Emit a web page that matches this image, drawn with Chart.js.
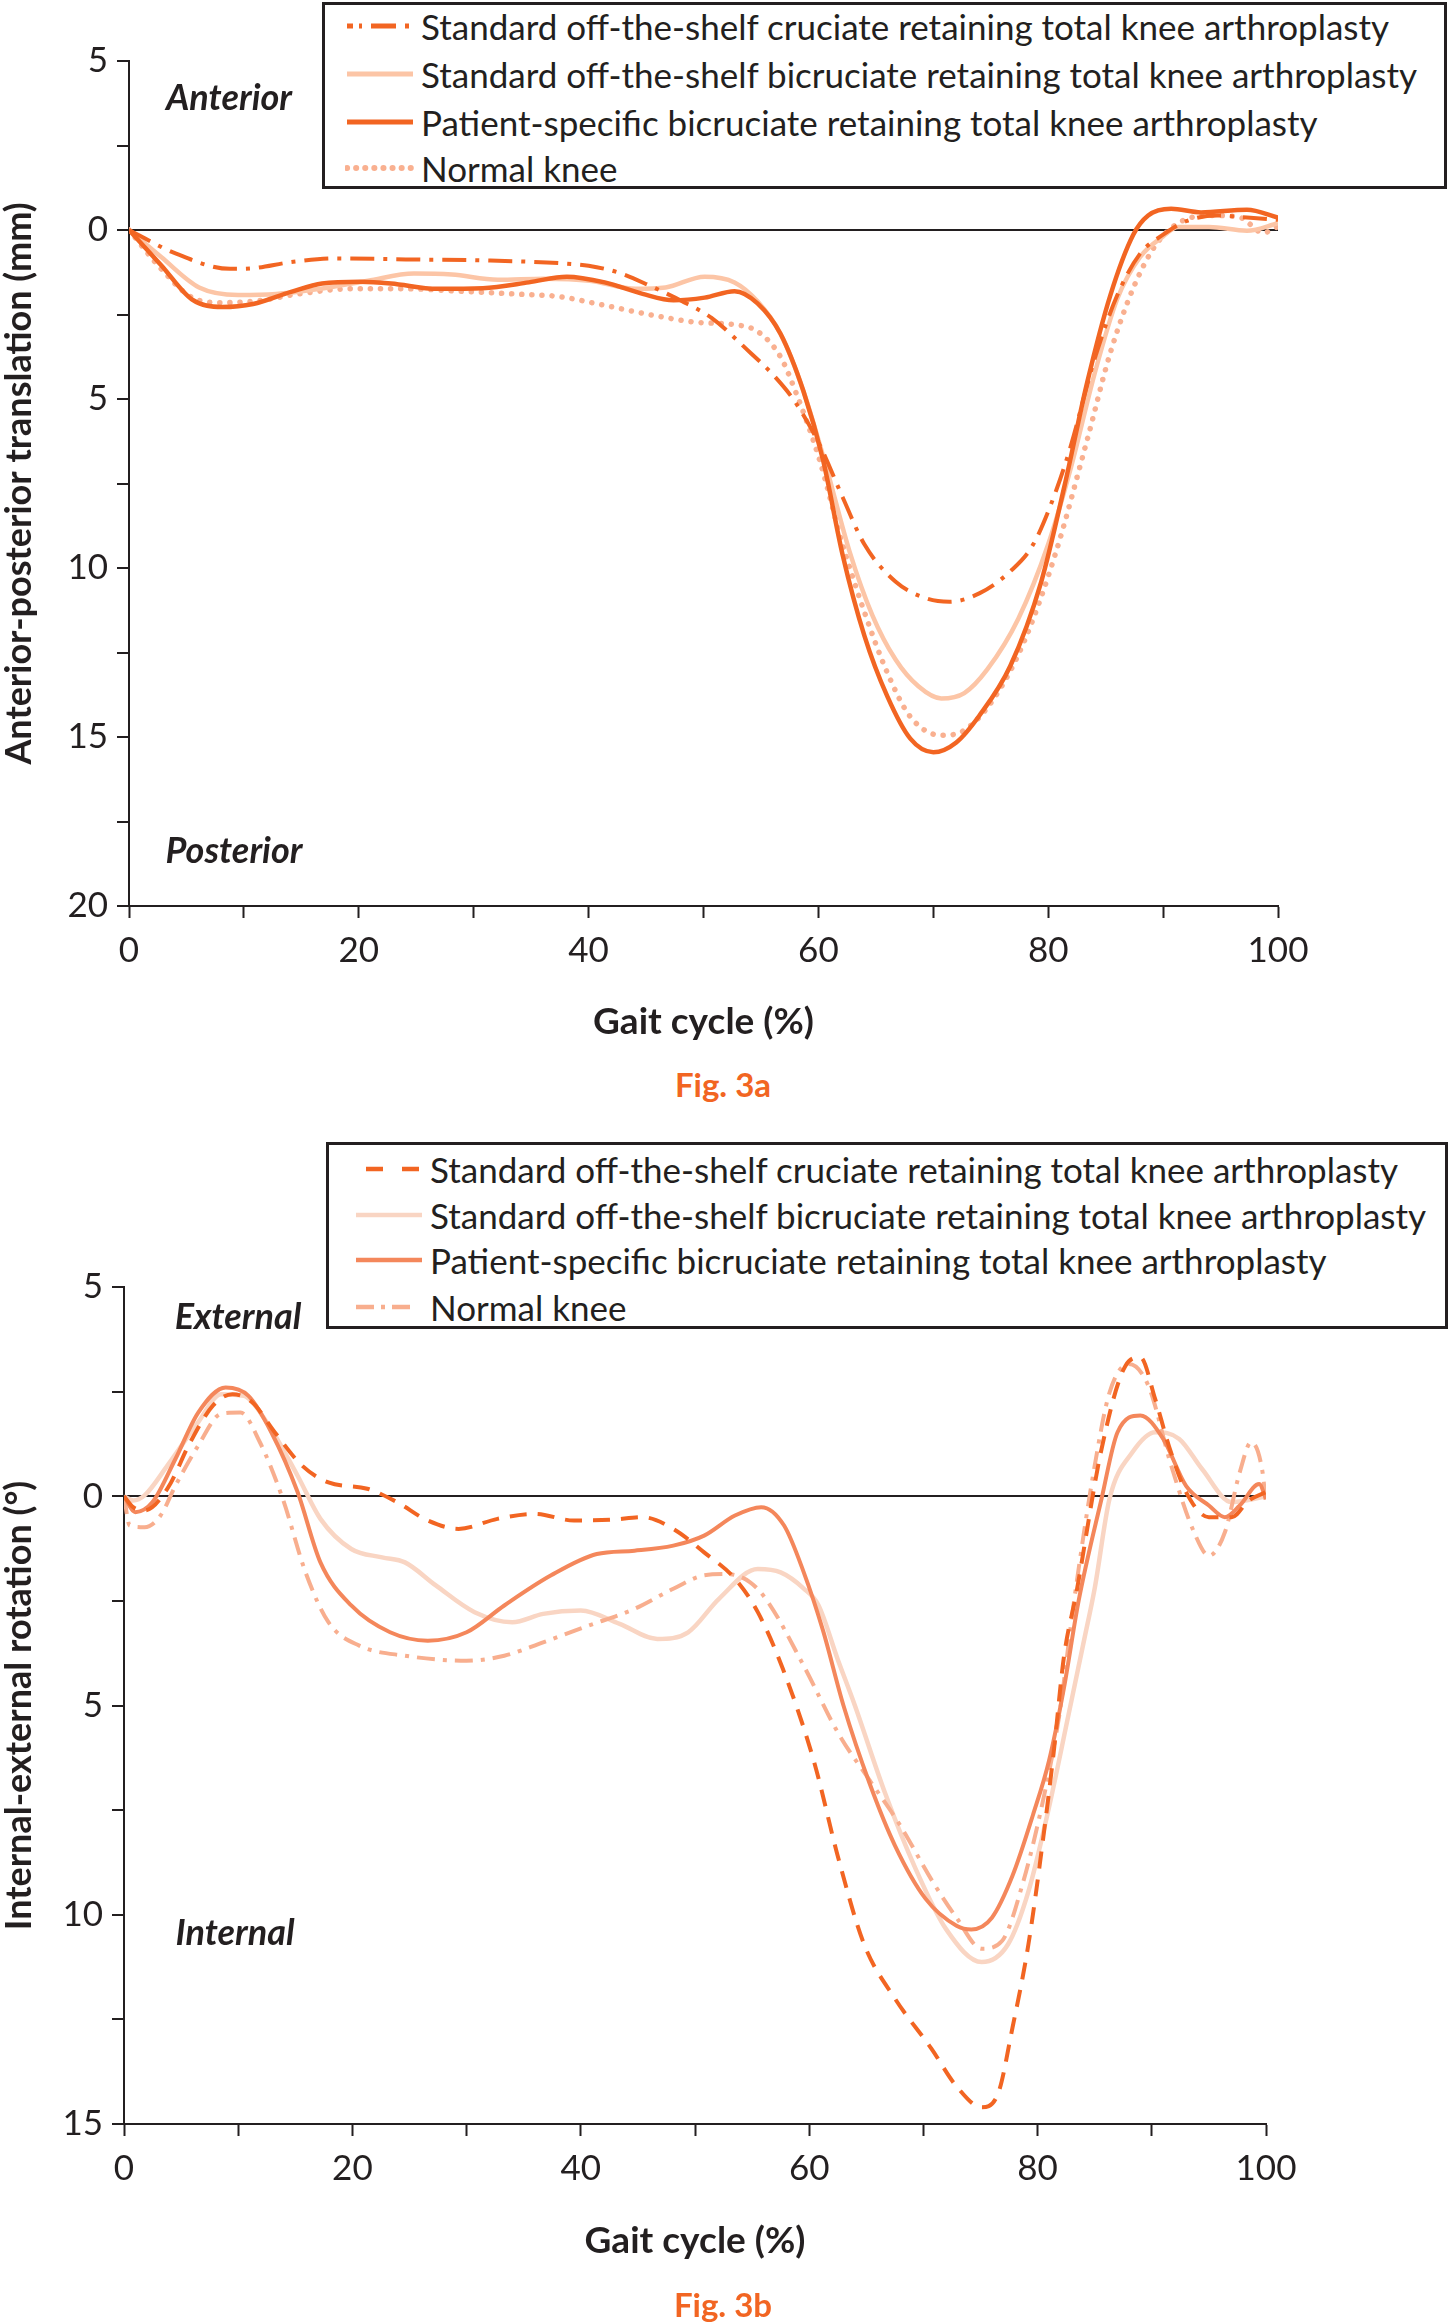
<!DOCTYPE html>
<html lang="en">
<head>
  <meta charset="UTF-8" />
  <title>Fig. 3 gait kinematics</title>
  <script src="https://cdn.jsdelivr.net/npm/chart.js"></script>
  <style>
    body {
      margin: 0;
      width: 1450px;
      height: 2322px;
      position: relative;
      background: #fff;
      font-family: Lato, "Open Sans", sans-serif;
      color: #231f20;
      overflow: hidden;
    }

    canvas {
      position: absolute;
      left: 0;
    }

    .note {
      position: absolute;
      transform: translate(-50%, -50%);
      font-size: 36px;
      font-weight: bold;
      font-style: italic;
      white-space: nowrap;
    }

    .fig {
      position: absolute;
      transform: translate(-50%, -50%);
      font-size: 33px;
      font-weight: bold;
      color: #f26522;
    }

    .legend {
      position: absolute;
      border: 3px solid #231f20;
      box-sizing: border-box;
      background: #fff;
      z-index: 2;
    }

    .row {
      position: absolute;
      height: 40px;
      display: flex;
      align-items: center;
      font-size: 35px;
      white-space: nowrap;
    }

    .row svg {
      margin-right: 6px;
    }
  </style>
</head>
<body>

  <canvas id="apChart" style="top:0"></canvas>
  <canvas id="ieChart" style="top:1110px"></canvas>

  <div class="note" style="left:229px; top:96px">Anterior</div>
  <div class="note" style="left:234px; top:849px">Posterior</div>
  <div class="note" style="left:238px; top:1315px">External</div>
  <div class="note" style="left:235px; top:1931px">Internal</div>

  <div class="fig" style="left:723px; top:1084px">Fig. 3a</div>
  <div class="fig" style="left:723px; top:2304px">Fig. 3b</div>

  <div class="legend" id="legendA" style="left:322px; top:2px; width:1125px; height:187px"></div>
  <div class="legend" id="legendB" style="left:326px; top:1142px; width:1122px; height:187px"></div>

  <script>
    const seriesNames = [
      'Standard off-the-shelf cruciate retaining total knee arthroplasty',
      'Standard off-the-shelf bicruciate retaining total knee arthroplasty',
      'Patient-specific bicruciate retaining total knee arthroplasty',
      'Normal knee'
    ];

    // Fig. 3a - anterior-posterior translation (mm), posterior negative
    const apCrX = [0, 4.1, 8.8, 10.8, 14.1, 18.1, 24.1, 30.8, 37.4, 40, 42.7, 45.4, 48.1, 50.7, 54.1, 56.1, 58, 60.1, 62.1, 64, 66.7, 69.4, 71.4, 74, 76.7, 78.7, 80.7, 82, 84, 86, 88, 90, 92, 94.7, 97.3, 100];
    const apCrY = [0, -0.7, -1.15, -1.13, -0.95, -0.84, -0.87, -0.9, -0.98, -1.06, -1.27, -1.66, -2.1, -2.6, -3.64, -4.3, -5.1, -6.35, -7.9, -9.3, -10.4, -10.9, -11.0, -10.75, -10.1, -9.3, -7.7, -6.35, -3.86, -1.94, -0.7, -0.14, 0.26, 0.43, 0.37, 0.3];

    const apBcrX = [0, 2.8, 6.1, 9.5, 12.8, 17.4, 20.8, 24.8, 28.1, 32.1, 36.1, 40.1, 44.1, 46.7, 50.1, 52.7, 54.7, 56.7, 58.7, 60.7, 62.7, 64.7, 66.7, 68.7, 70.7, 72.7, 74.7, 77.4, 80, 82, 84, 86, 88, 90, 91.3, 94, 97.3, 100];
    const apBcrY = [0, -0.8, -1.7, -1.92, -1.89, -1.7, -1.5, -1.29, -1.32, -1.47, -1.44, -1.5, -1.74, -1.7, -1.38, -1.55, -2.11, -3.07, -4.77, -7.03, -9.5, -11.4, -12.7, -13.5, -13.86, -13.7, -13.0, -11.5, -9.3, -7.0, -4.3, -2.05, -0.8, -0.19, 0.09, 0.09, -0.02, 0.2];

    const apPsX = [0, 2.8, 5.5, 8.1, 10.8, 14.1, 16.8, 20.1, 22.8, 26.8, 30.8, 34.8, 38.1, 41.4, 44.7, 47.4, 50.1, 52.7, 54.7, 56.7, 58.7, 60.4, 62.1, 64, 66, 68, 70, 72, 74, 76.7, 79.4, 81.4, 83.4, 85.4, 87.4, 88.7, 90.7, 93.3, 97.3, 100];
    const apPsY = [0, -1.04, -2.06, -2.28, -2.19, -1.83, -1.58, -1.53, -1.58, -1.74, -1.72, -1.55, -1.38, -1.55, -1.89, -2.08, -2.0, -1.81, -2.17, -3.07, -4.77, -6.8, -9.6, -12.0, -13.8, -15.05, -15.45, -15.16, -14.37, -12.9, -10.4, -7.6, -4.5, -1.94, -0.14, 0.43, 0.63, 0.52, 0.6, 0.37];

    const apNormX = [0, 2.8, 5.5, 8.1, 11.5, 14.8, 19.4, 24.1, 28.8, 33.4, 37.4, 41.4, 45.4, 49.4, 52.7, 54.7, 56.7, 58, 60.1, 62.1, 64, 66, 68, 70.7, 72.7, 75.4, 78, 80.7, 83.4, 85.4, 87.4, 89.3, 91.3, 94, 96.7, 98.7, 100];
    const apNormY = [0, -1.15, -2.0, -2.15, -2.08, -1.89, -1.74, -1.74, -1.81, -1.89, -1.97, -2.23, -2.51, -2.73, -2.8, -3.0, -3.75, -4.77, -6.8, -9.3, -11.3, -13.1, -14.4, -14.95, -14.8, -13.8, -12.1, -9.5, -6.2, -3.64, -1.72, -0.47, 0.2, 0.43, 0.37, -0.08, 0.1];

    // Fig. 3b - internal-external rotation (deg), internal negative
    const ieCrX = [0, 0.8, 1.8, 3.8, 5.8, 7.8, 9.5, 11.2, 13.2, 15.6, 17.9, 21.3, 23.9, 26.6, 29.3, 32.7, 36, 39.4, 42.7, 45.4, 48.1, 50.8, 53.5, 55.5, 57.7, 60.4, 62.6, 64.8, 67.5, 70.7, 72.9, 75.1, 76.5, 77.8, 79.2, 80.5, 81.4, 82.3, 83.4, 85.6, 87.7, 89, 90.3, 91.5, 93, 95, 97, 98.5, 100];
    const ieCrY = [0, -0.26, -0.34, 0.18, 1.29, 2.17, 2.44, 2.25, 1.53, 0.73, 0.33, 0.18, -0.14, -0.58, -0.78, -0.54, -0.42, -0.58, -0.56, -0.5, -0.78, -1.34, -1.97, -2.77, -4.13, -6.32, -8.7, -10.7, -12.0, -13.2, -14.1, -14.6, -14.3, -12.7, -10.7, -8.15, -6.14, -3.85, -2.3, 1.13, 3.12, 3.32, 2.32, 1.2, 0.1, -0.5, -0.5, -0.1, 0.1];

    const ieBcrX = [0, 0.8, 1.8, 3.8, 6.5, 8.5, 10.5, 12.5, 15.2, 17.2, 19.9, 22.6, 24.6, 27.3, 30.7, 34, 36.7, 40, 43.4, 46.7, 49.4, 52.1, 55.5, 57.5, 59.5, 60.8, 62.5, 64, 66.6, 69.3, 72, 75.1, 77.4, 79.2, 81, 82.7, 84.1, 85, 86.3, 88.3, 90.3, 92.4, 94.4, 97, 99, 100];
    const ieBcrY = [0, -0.1, 0.02, 0.73, 1.77, 2.44, 2.4, 1.77, 0.49, -0.54, -1.26, -1.46, -1.58, -2.13, -2.77, -3.01, -2.81, -2.73, -3.05, -3.41, -3.25, -2.45, -1.74, -1.82, -2.2, -2.6, -3.9, -5.0, -7.06, -8.89, -10.35, -11.13, -10.71, -9.44, -7.43, -5.23, -3.4, -2.2, -0.06, 1.05, 1.53, 1.37, 0.65, -0.14, -0.06, 0];

    const iePsX = [0, 1, 2.5, 4.5, 6.5, 8.9, 10.9, 12.9, 15.2, 17.2, 19.9, 23.3, 26.6, 30, 33.3, 37.4, 41.4, 44.7, 48.1, 50.8, 53.5, 55.8, 57.8, 59.5, 61.2, 63, 65.3, 67.5, 70.2, 72.9, 74.2, 76, 77.8, 79.6, 81, 82.3, 83.6, 85.6, 87, 89, 91, 93, 95, 96.4, 97.7, 99.4, 100];
    const iePsY = [0, -0.38, -0.14, 0.89, 2.0, 2.6, 2.4, 1.53, 0.1, -1.58, -2.61, -3.25, -3.45, -3.25, -2.61, -1.89, -1.38, -1.3, -1.18, -0.94, -0.46, -0.26, -0.7, -1.8, -3.2, -5.0, -6.87, -8.34, -9.62, -10.26, -10.35, -10.07, -9.07, -7.61, -6.32, -4.59, -2.49, -0.06, 1.53, 1.93, 1.37, 0.25, -0.22, -0.5, -0.22, 0.29, -0.06];

    const ieNormX = [0, 0.5, 1.8, 3.2, 4.5, 6.5, 8.5, 10.2, 11.9, 13.9, 15.9, 17.9, 20.6, 24.6, 30, 33.3, 36.7, 40.7, 44.7, 48.1, 50.8, 52.8, 54.8, 56.3, 59.5, 62.6, 65.3, 68, 70.7, 72.9, 75.1, 76.9, 78.7, 80.5, 81.9, 83.2, 85, 86.3, 88, 89.7, 91.7, 93.7, 95, 96.4, 97.7, 98.7, 99.7, 100];
    const ieNormY = [0, -0.7, -0.74, -0.46, 0.25, 1.21, 1.97, 2.0, 1.29, -0.06, -1.82, -3.01, -3.57, -3.81, -3.93, -3.81, -3.49, -3.09, -2.69, -2.21, -1.89, -1.86, -2.05, -2.49, -4.04, -5.69, -6.79, -7.88, -9.16, -10.07, -10.81, -10.62, -9.25, -7.24, -5.23, -2.49, 0.73, 2.48, 3.16, 2.64, 0.73, -0.86, -1.42, -0.86, 0.57, 1.29, 0.57, -0.22];

    const ink = '#231f20';

    function pts(xs, ys) {
      return xs.map((x, i) => ({ x: x, y: ys[i] }));
    }

    function line(data, color, width, dash, order, cap) {
      return {
        data: data,
        borderColor: color,
        borderWidth: width,
        borderDash: dash || [],
        borderCapStyle: cap || 'butt',
        borderJoinStyle: 'round',
        pointRadius: 0,
        fill: false,
        cubicInterpolationMode: 'monotone',
        order: order
      };
    }

    function makeOptions(yMin, yMax, yTitle, padTop, padRight, padBottom, yWidth, xHeight) {
      return {
        responsive: false,
        animation: false,
        devicePixelRatio: 1,
        layout: { padding: { top: padTop, right: padRight, bottom: padBottom, left: 0 } },
        plugins: { legend: { display: false }, tooltip: { enabled: false } },
        scales: {
          x: {
            type: 'linear',
            min: 0,
            max: 100,
            afterFit: s => { s.height = xHeight; },
            border: { color: ink, width: 2 },
            grid: { drawOnChartArea: false, tickLength: 12, tickColor: ink, tickWidth: 2 },
            ticks: {
              stepSize: 10,
              autoSkip: false,
              maxRotation: 0,
              padding: 12,
              color: ink,
              font: { family: 'Lato', size: 35 },
              callback: v => (v % 20 === 0 ? String(v) : '')
            },
            title: {
              display: true,
              text: 'Gait cycle (%)',
              color: ink,
              padding: { top: 0, bottom: 0 },
              font: { family: 'Lato', size: 37, weight: 'bold' }
            }
          },
          y: {
            min: yMin,
            max: yMax,
            afterFit: s => { s.width = yWidth; },
            border: { color: ink, width: 2 },
            grid: {
              drawOnChartArea: true,
              color: c => (c.tick && c.tick.value === 0 ? ink : 'transparent'),
              lineWidth: 2,
              tickLength: 12,
              tickColor: ink,
              tickWidth: 2
            },
            ticks: {
              stepSize: 2.5,
              autoSkip: false,
              padding: 9,
              color: ink,
              font: { family: 'Lato', size: 35 },
              callback: v => (Math.abs(v % 5) < 1e-6 ? String(Math.abs(v)) : '')
            },
            title: {
              display: true,
              text: yTitle,
              color: ink,
              padding: { top: 1, bottom: 0 },
              font: { family: 'Lato', size: 36, weight: 'bold', lineHeight: 1 }
            }
          }
        }
      };
    }

    const apCanvas = document.getElementById('apChart');
    apCanvas.width = 1450;
    apCanvas.height = 1060;
    new Chart(apCanvas, {
      type: 'line',
      data: {
        datasets: [
          line(pts(apNormX, apNormY), '#f9b090', 5.5, [0.1, 10], 4, 'round'),
          line(pts(apBcrX, apBcrY), '#fcc5a6', 4.5, [], 3),
          line(pts(apCrX, apCrY), '#f26522', 4, [24, 9, 4, 9], 2),
          line(pts(apPsX, apPsY), '#f26522', 4.5, [], 1)
        ]
      },
      options: makeOptions(-20, 5, 'Anterior-posterior translation (mm)', 61, 172, 16, 129, 138)
    });

    const ieCanvas = document.getElementById('ieChart');
    ieCanvas.width = 1450;
    ieCanvas.height = 1212;
    new Chart(ieCanvas, {
      type: 'line',
      data: {
        datasets: [
          line(pts(ieBcrX, ieBcrY), '#f9d5c3', 4.5, [], 4),
          line(pts(ieNormX, ieNormY), '#f8ae8e', 4, [18, 8, 4, 8], 3),
          line(pts(iePsX, iePsY), '#f4875b', 4, [], 2),
          line(pts(ieCrX, ieCrY), '#f26522', 4, [17, 11], 1)
        ]
      },
      options: makeOptions(-15, 5, 'Internal-external rotation (°)', 177, 184, 59, 124, 139)
    });

    // legends drawn as html, line samples as svg
    function sample(color, width, dash, cap) {
      return '<svg width="70" height="20"><line x1="2" y1="10" x2="68" y2="10" stroke="' + color +
        '" stroke-width="' + width + '" stroke-dasharray="' + dash + '" stroke-linecap="' + cap + '"/></svg>';
    }

    function buildLegend(id, rows, tops, left) {
      const box = document.getElementById(id);
      rows.forEach((r, i) => {
        const div = document.createElement('div');
        div.className = 'row';
        div.style.top = (tops[i] - 20) + 'px';
        div.style.left = left + 'px';
        div.innerHTML = r + '<span>' + seriesNames[i] + '</span>';
        box.appendChild(div);
      });
    }

    buildLegend('legendA', [
      sample('#f26522', 5, '6 6 3 9 25 9 4 40', 'butt'),
      sample('#fcc5a6', 5, 'none', 'butt'),
      sample('#f26522', 5, 'none', 'butt'),
      sample('#f9b090', 6, '0.1 9', 'round')
    ], [21, 69, 117, 163], 20);

    buildLegend('legendB', [
      sample('#f26522', 4.5, '0 10 17 19 17 40', 'butt'),
      sample('#f9d5c3', 4.5, 'none', 'butt'),
      sample('#f4875b', 4.5, 'none', 'butt'),
      sample('#f8ae8e', 4.5, '18 7 4 7 18 40', 'butt')
    ], [24, 70, 115, 162], 25);
  </script>

</body>
</html>
